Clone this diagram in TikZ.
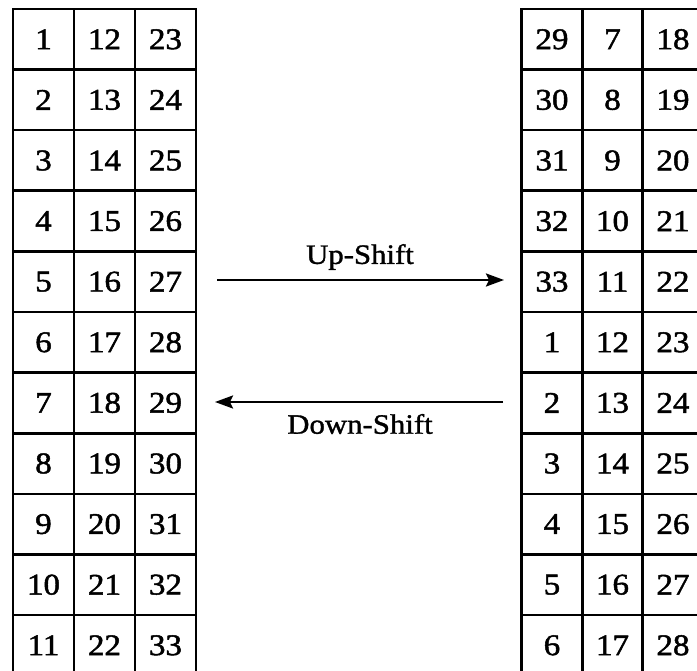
\documentclass[tikz,border=0pt]{standalone}
\usepackage{fontspec}
\setmainfont{Liberation Serif}
\newfontfamily\cellfont[FakeStretch=1.1,FakeBold=1.6]{Liberation Serif}
\newfontfamily\lblfont[FakeStretch=1.1,FakeBold=1.2]{Liberation Serif}
\usetikzlibrary{arrows.meta}
\begin{document}
\begin{tikzpicture}[x=1pt,y=-1pt,
  cell/.style={draw,line width=2.6pt,rectangle,minimum width=61pt,minimum height=60.6pt,inner sep=0pt,font=\cellfont\fontsize{30}{32}\selectfont},
  shiftarrow/.style={line width=2.4pt,-{Stealth[length=18pt,width=13pt,inset=3pt]}},
  lbl/.style={font=\lblfont\fontsize{28}{30}\selectfont,inner sep=0pt}]
\useasboundingbox (0,0) rectangle (697,671);
\clip (0,0) rectangle (697,671);
% left table
\foreach \r in {0,...,10} {
  \pgfmathtruncatemacro{\a}{\r+1}
  \pgfmathtruncatemacro{\b}{\r+12}
  \pgfmathtruncatemacro{\c}{\r+23}
  \node[cell] (L\r a) at (43.5,{9+60.6*(\r+0.5)}) {\a};
  \node[cell] (L\r b) at (104.5,{9+60.6*(\r+0.5)}) {\b};
  \node[cell] (L\r c) at (165.5,{9+60.6*(\r+0.5)}) {\c};
}
% right table
\foreach \r in {0,...,10} {
  \pgfmathtruncatemacro{\a}{mod(\r+28,33)+1}
  \pgfmathtruncatemacro{\b}{mod(\r+6,33)+1}
  \pgfmathtruncatemacro{\c}{mod(\r+17,33)+1}
  \node[cell] (R\r a) at (552,{9+60.6*(\r+0.5)}) {\a};
  \node[cell] (R\r b) at (612.5,{9+60.6*(\r+0.5)}) {\b};
  \node[cell] (R\r c) at (673,{9+60.6*(\r+0.5)}) {\c};
}
\coordinate (ua) at (217,280);
\coordinate (ub) at (504,280);
\coordinate (da) at (503,402);
\coordinate (db) at (215,402);
\draw[shiftarrow] (ua) -- (ub);
\draw[shiftarrow] (da) -- (db);
\node[lbl] (up) at (360,257) {Up-Shift};
\node[lbl] (down) at (360,424) {Down-Shift};
\end{tikzpicture}
\end{document}
